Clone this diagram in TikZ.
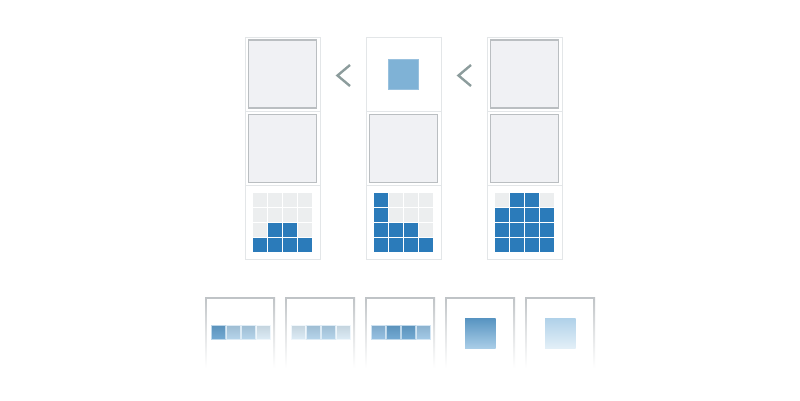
\documentclass[tikz,border=0pt]{standalone}
\begin{document}
\begin{tikzpicture}[x=1pt,y=-1pt,
  cellbox/.style={draw=framec,line width=1pt,fill=white},
  innersq/.style={draw=innerb,line width=1.5pt,fill=innerf},
  gsq/.style={fill=gridgray},
  bsq/.style={fill=gridblue},
  chev/.style={draw=chevc,line width=2.4pt},
]
\definecolor{framec}{HTML}{E3E6E8}
\definecolor{innerb}{HTML}{BABEC1}
\definecolor{innerf}{HTML}{F0F1F4}
\definecolor{gridgray}{HTML}{ECEEEF}
\definecolor{gridblue}{HTML}{2B7BBA}
\definecolor{chevc}{HTML}{8C9C9C}
\definecolor{midblue}{HTML}{7FB2D6}
\definecolor{bordg}{HTML}{BFC3C6}
\definecolor{cA}{HTML}{5B9BCB}
\definecolor{cB}{HTML}{A9CDE7}
\definecolor{cC}{HTML}{D6E8F4}
\definecolor{cD}{HTML}{84B6DD}
\definecolor{cE}{HTML}{93C0E2}
\useasboundingbox (0,0) rectangle (800,400);
\fill[white] (0,0) rectangle (800,400);
% columns
\foreach \cx/\nm in {245/a,366/b,487/c}{
  \foreach \k in {0,1,2}{
    \draw[cellbox] (\cx,37+74.3*\k) rectangle ++(75,74.3);
  }
}
% inner gray squares
\foreach \cx/\cy in {245/37,245/111.3,366/111.3,487/37,487/111.3}{
  \draw[innersq] (\cx+3.5,\cy+3.2) rectangle ++(68,68);
}
% blue square in middle column
\node[draw=midblue!80!white,fill=midblue,line width=0.6pt,minimum size=30pt,inner sep=0pt] (bsq) at (403.5,74.2) {};
% chevrons
\coordinate (c1a) at (350,65); \coordinate (c1b) at (337.5,75.5); \coordinate (c1c) at (350,86);
\draw[chev] (c1a) -- (c1b) -- (c1c);
\coordinate (c2a) at (471,65); \coordinate (c2b) at (458.5,75.5); \coordinate (c2c) at (471,86);
\draw[chev] (c2a) -- (c2b) -- (c2c);
% grids
\def\gridpat#1#2{%
  \foreach \v [count=\i from 0] in {#2}{
    \pgfmathtruncatemacro\r{int(\i/4)}
    \pgfmathtruncatemacro\c{mod(\i,4)}
    \ifnum\v=1
      \fill[bsq] (#1+8.3+15*\c,193.3+15*\r) rectangle ++(13.6,13.6);
    \else
      \fill[gsq] (#1+8.3+15*\c,193.3+15*\r) rectangle ++(13.6,13.6);
    \fi
  }}
\gridpat{245}{0,0,0,0, 0,0,0,0, 0,1,1,0, 1,1,1,1}
\gridpat{366}{1,0,0,0, 1,0,0,0, 1,1,1,0, 1,1,1,1}
\gridpat{487}{0,1,1,0, 1,1,1,1, 1,1,1,1, 1,1,1,1}
% bottom boxes
\foreach \bx in {205,285,365,445,525}{
  \shade[top color=bordg,bottom color=white,middle color=bordg!45!white] (\bx,297) rectangle (\bx+70,368);
  \fill[white] (\bx+2,299) rectangle (\bx+68,368);
}
% small squares
\def\smallrow#1#2{%
  \foreach \col [count=\i from 0] in {#2}{
    \shade[top color=\col!90!black!95,bottom color=\col!85!white] (#1+6+15*\i,325) rectangle ++(14,14);
    \draw[white!60!\col,line width=0.5pt] (#1+6.25+15*\i,325.25) rectangle ++(13.5,13.5);
  }}
\smallrow{205}{cA,cB,cB,cC}
\smallrow{285}{cC,cB,cB,cC}
\smallrow{365}{cD,cA,cA,cE}
% big squares
\shade[top color=cA!95!black,bottom color=cB] (465,318) rectangle (495.5,348);
\shade[top color=cB!85!cC,bottom color=cC!70!white] (545,318) rectangle (575.5,348);
\end{tikzpicture}
\end{document}
